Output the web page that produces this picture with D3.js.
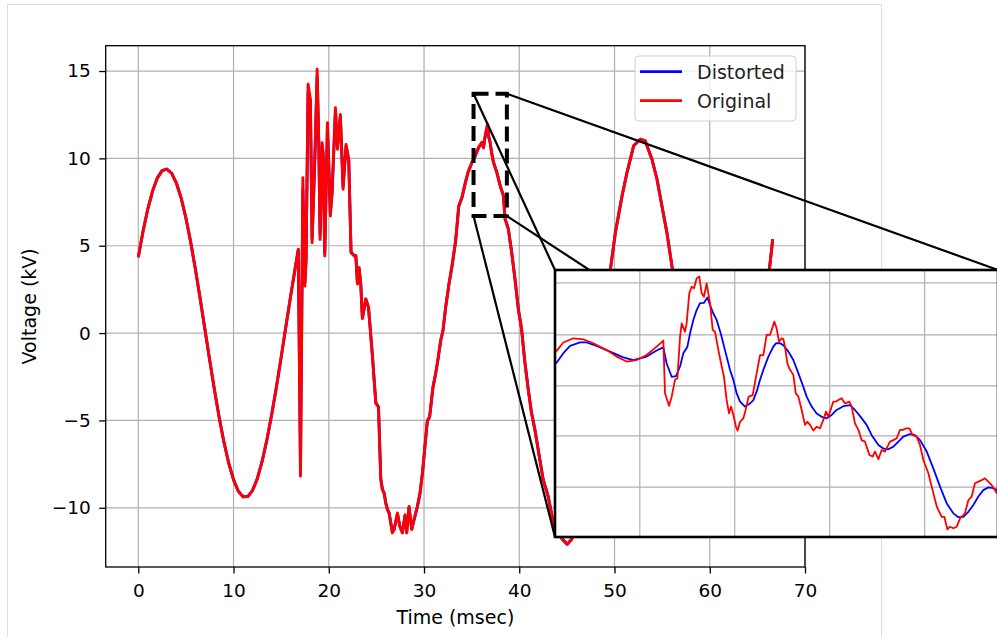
<!DOCTYPE html>
<html>
<head>
<meta charset="utf-8">
<script src="https://cdn.jsdelivr.net/npm/d3@7"></script>
<style>
  body { margin: 0; background: #fff; }
  svg text { font-family: "DejaVu Sans", sans-serif; }
</style>
</head>
<body>
<div id="chart"></div>
<script>
(function() {

// ---- data ----
var xTicks = [0, 10, 20, 30, 40, 50, 60, 70];
var yTicks = [-10, -5, 0, 5, 10, 15];
var seriesNames = ["Distorted", "Original"];
var seriesColors = ["#0000ff", "#ff0000"];

var timeMs = [0,0.5,1,1.5,2,2.5,3,3.5,4,4.5,5,5.5,6,6.5,7,7.5,8,8.5,9,9.5,10,10.5,11,11.5,12,12.5,13,13.5,14,14.5,15,15.5,16,16.5,16.8,
  17.03,17.28,17.49,17.62,17.83,18.07,18.25,18.53,18.78,18.95,19.09,19.30,19.41,19.58,19.86,20.17,20.35,20.70,20.91,21.22,21.50,21.82,22.10,22.34,22.69,
  22.84,23.01,23.18,23.36,23.53,23.89,24.17,24.59,24.94,25.22,25.46,25.63,25.81,25.98,26.16,26.33,26.68,26.86,27.21,27.45,27.73,28.01,28.18,28.43,28.71,28.95,29.30,29.58,29.83,30.35,30.59,30.94,31.22,31.50,31.75,31.99,32.27,32.62,32.97,33.32,
  33.65,33.99,34.34,34.62,35.03,35.38,35.73,36.08,36.25,36.42,36.67,36.80,36.94,37.10,37.29,37.64,37.99,38.33,38.51,38.85,39.20,39.55,39.90,40.24,40.59,40.94,41.28,41.63,41.98,42.50,43.02,43.37,43.72,44.10,44.50,45.03,
  45.5,46,47,48,49,49.57,50.09,50.79,51.31,52.01,52.71,53.23,53.93,54.46,54.98,55.50,56.03,57,58,59,60,61,61.5,62,63,64,65,65.8,66.26,66.61];

var originalKv = [4.34,5.83,7.10,8.13,8.87,9.30,9.39,9.15,8.59,7.73,6.59,5.21,3.65,1.97,0.21,-1.55,-3.26,-4.85,-6.26,-7.45,-8.39,-9.05,-9.37,-9.36,-9.00,-8.33,-7.35,-6.12,-4.69,-3.10,-1.39,0.38,2.13,3.80,4.79,
  -8.19,8.89,2.69,4.22,14.24,13.38,5.17,9.94,15.10,10.90,5.36,10.90,10.32,4.41,12.04,6.70,8.03,12.90,10.52,12.52,8.23,10.80,9.94,4.60,4.41,
  4.43,2.81,3.76,2.81,0.82,1.96,1.48,-1.37,-4.03,-4.22,-8.40,-8.97,-9.16,-9.73,-10.11,-10.30,-11.44,-11.25,-10.30,-11.06,-11.44,-10.40,-11.44,-9.92,-11.25,-10.68,-9.92,-9.16,-8.02,-4.98,-4.79,-3.08,-2.32,-1.37,-0.42,0.15,1.48,2.81,3.95,5.29,
  7.29,7.77,8.62,9.20,9.77,10.15,10.63,10.92,10.60,11.30,11.96,11.20,10.92,10.30,9.77,9.20,8.43,7.86,6.52,5.95,4.61,3.08,1.37,0.22,-1.69,-3.22,-4.56,-5.51,-6.66,-8.38,-9.33,-10.29,-11.24,-11.40,-11.80,-12.10,
  -11.8,-11.2,-9.0,-5.0,0.5,3.64,5.75,7.85,9.19,10.72,11.10,11.00,9.95,8.81,7.28,5.75,3.84,0.2,-3.5,-6.8,-9.3,-10.8,-11.1,-10.9,-9.8,-6.9,-3.0,1.0,3.64,5.37];

var distortedKv = [4.34,5.83,7.10,8.13,8.87,9.30,9.39,9.15,8.59,7.73,6.59,5.21,3.65,1.97,0.21,-1.55,-3.26,-4.85,-6.26,-7.45,-8.39,-9.05,-9.37,-9.36,-9.00,-8.33,-7.35,-6.12,-4.69,-3.10,-1.39,0.38,2.13,3.80,4.79,
  -7.60,8.20,2.90,4.30,13.80,13.30,5.40,9.80,14.70,11.00,5.60,10.70,10.20,4.60,11.80,6.90,8.10,12.70,10.60,12.40,8.40,10.70,9.85,4.65,4.42,
  4.43,2.85,3.72,2.83,0.86,1.94,1.47,-1.33,-3.98,-4.23,-8.30,-8.93,-9.15,-9.70,-10.08,-10.29,-11.38,-11.25,-10.36,-11.02,-11.40,-10.46,-11.40,-9.98,-11.20,-10.70,-9.95,-9.18,-8.06,-5.04,-4.80,-3.11,-2.34,-1.39,-0.44,0.13,1.46,2.79,3.93,5.27,
  7.25,7.77,8.60,9.19,9.76,10.14,10.61,10.90,10.62,11.26,11.90,11.24,10.93,10.32,9.79,9.21,8.45,7.88,6.56,5.97,4.64,3.11,1.40,0.25,-1.66,-3.19,-4.53,-5.49,-6.63,-8.35,-9.31,-10.26,-11.21,-11.39,-11.78,-12.08,
  -11.8,-11.2,-9.0,-5.0,0.5,3.64,5.75,7.85,9.19,10.72,11.10,11.00,9.95,8.81,7.28,5.75,3.84,0.2,-3.5,-6.8,-9.3,-10.8,-11.1,-10.9,-9.8,-6.9,-3.0,1.0,3.64,5.37];

// zoomed window (msec, kV) and the inset's own grid
var zoomTimeRange = [35.2, 38.7];
var zoomKvRange = [6.7, 13.7];
var insetGridTime = [35.87, 36.62, 37.37, 38.12];
var insetGridKv = [8.01, 9.35, 10.66, 12.00, 13.36];

var insetOrigTime = [35.208,35.266,35.345,35.424,35.503,35.608,35.687,35.766,35.845,35.924,
  36.003,36.056,36.069,36.101,36.122,36.148,36.167,36.188,36.201,36.227,
  36.240,36.261,36.280,36.298,36.319,36.340,36.359,36.377,36.398,36.425,
  36.446,36.464,36.491,36.517,36.535,36.556,36.575,36.591,36.609,36.630,
  36.643,36.662,36.688,36.706,36.730,36.762,36.793,36.820,36.846,36.872,
  36.899,36.920,36.933,36.951,36.970,36.991,37.004,37.017,37.036,37.051,
  37.083,37.102,37.123,37.149,37.175,37.194,37.215,37.241,37.267,37.294,
  37.320,37.341,37.360,37.386,37.399,37.420,37.439,37.465,37.491,37.526,
  37.544,37.570,37.597,37.623,37.649,37.684,37.710,37.728,37.755,37.781,
  37.807,37.847,37.873,37.900,37.926,37.952,37.973,38.000,38.026,38.058,
  38.084,38.110,38.150,38.176,38.216,38.255,38.276,38.300,38.321,38.347,
  38.374,38.400,38.439,38.466,38.492,38.518,38.545,38.571,38.597,38.624,
  38.650,38.676,38.692];
var insetOrigKv = [11.56,11.80,11.91,11.88,11.78,11.60,11.43,11.30,11.34,11.47,
  11.69,11.85,10.47,10.14,10.38,10.82,10.86,11.95,12.30,12.08,
  12.30,13.09,13.26,13.22,13.48,13.53,13.09,13.00,13.35,12.83,
  12.13,12.08,11.60,11.17,10.90,10.29,9.94,10.12,9.90,9.59,
  9.49,9.72,9.81,10.03,10.38,10.42,10.99,11.47,11.47,12.00,
  12.00,12.21,12.35,12.17,11.82,11.91,11.89,11.69,11.25,11.12,
  10.95,10.47,10.38,10.03,9.64,9.72,9.64,9.49,9.59,9.55,
  9.77,9.99,9.85,10.12,10.25,10.25,10.29,10.34,10.20,10.25,
  10.12,9.68,9.51,9.24,9.20,8.85,8.81,8.94,8.74,8.98,
  8.94,9.20,9.24,9.29,9.51,9.51,9.55,9.55,9.37,9.33,
  9.11,8.72,8.37,8.02,7.50,7.23,7.23,6.90,6.97,6.93,
  6.97,7.19,7.32,7.67,7.76,8.11,8.15,8.19,8.24,8.15,
  8.06,7.93,7.84];

var insetDistTime = [35.208,35.266,35.319,35.398,35.450,35.529,35.635,35.740,35.819,35.924,
  36.003,36.056,36.082,36.122,36.156,36.188,36.214,36.246,36.267,36.293,
  36.319,36.346,36.377,36.404,36.425,36.451,36.477,36.509,36.543,36.583,
  36.609,36.635,36.662,36.701,36.741,36.767,36.793,36.820,36.846,36.886,
  36.925,36.946,36.978,37.004,37.044,37.083,37.123,37.162,37.188,37.228,
  37.267,37.307,37.346,37.386,37.425,37.478,37.531,37.570,37.610,37.662,
  37.702,37.755,37.794,37.834,37.873,37.913,37.952,38.005,38.044,38.084,
  38.137,38.189,38.242,38.295,38.347,38.387,38.426,38.466,38.505,38.545,
  38.584,38.624,38.663,38.692];
var insetDistKv = [11.25,11.52,11.71,11.80,11.80,11.71,11.56,11.41,11.34,11.43,
  11.59,11.67,11.25,10.90,10.92,11.17,11.52,11.69,12.04,12.39,
  12.65,12.83,12.84,12.98,12.78,12.56,12.39,12.04,11.60,11.08,
  10.82,10.47,10.25,10.12,10.20,10.29,10.51,10.82,11.08,11.43,
  11.69,11.78,11.78,11.73,11.56,11.34,10.99,10.64,10.38,10.12,
  9.94,9.85,9.81,9.90,10.03,10.13,10.16,10.03,9.87,9.64,
  9.37,9.11,9.02,9.00,9.07,9.20,9.33,9.40,9.37,9.24,
  8.94,8.50,8.02,7.58,7.32,7.22,7.23,7.36,7.54,7.76,
  7.93,8.00,7.98,7.93];

// ---- layout ----
var svg = d3.select("#chart").append("svg")
    .attr("width", 997)
    .attr("height", 637),
    margin = {top: 45.7, left: 105.7},
    width = 805 - 105.7,
    height = 567 - 45.7,
    inset = {left: 555, top: 270, width: 443, height: 267},
    g = svg.append("g").attr("transform", "translate(" + margin.left + "," + margin.top + ")");

// light figure frame
svg.insert("rect", ":first-child")
    .attr("x", 7.5).attr("y", 4.5)
    .attr("width", 874).attr("height", 700)
    .attr("fill", "none")
    .attr("stroke", "#dcdcdc");

var x = d3.scaleLinear().domain([-3.42, 70]).range([0, width]);
var y = d3.scaleLinear().domain([-13.39, 16.45]).range([height, 0]);

// grid
g.append("g").selectAll("line").data(xTicks).enter().append("line")
    .attr("x1", function(d) { return x(d); }).attr("x2", function(d) { return x(d); })
    .attr("y1", 0).attr("y2", height)
    .attr("stroke", "#b0b0b0").attr("stroke-width", 1.2);
g.append("g").selectAll("line").data(yTicks).enter().append("line")
    .attr("y1", function(d) { return y(d); }).attr("y2", function(d) { return y(d); })
    .attr("x1", 0).attr("x2", width)
    .attr("stroke", "#b0b0b0").attr("stroke-width", 1.2);

// axes
var xAxis = g.append("g")
    .attr("transform", "translate(0," + height + ")")
    .call(d3.axisBottom(x).tickValues(xTicks).tickSize(6.5).tickPadding(10));
var yAxis = g.append("g")
    .call(d3.axisLeft(y).tickValues(yTicks).tickSize(6.5).tickPadding(8.5));
[xAxis, yAxis].forEach(function(a) {
  a.select(".domain").remove();
  a.attr("font-size", 18.5).attr("font-family", "DejaVu Sans");
  a.selectAll("line").attr("stroke", "#000").attr("stroke-width", 1.3);
  a.selectAll("text").attr("fill", "#000");
});

svg.append("text")
    .attr("x", margin.left + width / 2)
    .attr("y", 624)
    .attr("text-anchor", "middle")
    .attr("font-size", 19)
    .text("Time (msec)");

svg.append("text")
    .attr("transform", "translate(36," + (margin.top + height / 2) + ") rotate(-90)")
    .attr("text-anchor", "middle")
    .attr("font-size", 19)
    .text("Voltage (kV)");

// series
var line = d3.line()
    .x(function(d) { return x(d[0]); })
    .y(function(d) { return y(d[1]); });

[distortedKv, originalKv].forEach(function(vals, i) {
  g.append("path")
      .datum(d3.zip(timeMs, vals))
      .attr("fill", "none")
      .attr("stroke", seriesColors[i])
      .attr("stroke-width", 2.9)
      .attr("stroke-linejoin", "round")
      .attr("d", line);
});

// spines
g.append("rect")
    .attr("width", width).attr("height", height)
    .attr("fill", "none").attr("stroke", "#000").attr("stroke-width", 1.3);

// legend
var legend = svg.append("g");
legend.append("rect")
    .attr("x", 635).attr("y", 56).attr("width", 161).attr("height", 65)
    .attr("rx", 4)
    .attr("fill", "#fff").attr("fill-opacity", 0.8)
    .attr("stroke", "#d0d0d0");
seriesNames.forEach(function(name, i) {
  var cy = 71.7 + i * 29;
  legend.append("line")
      .attr("x1", 640).attr("x2", 682).attr("y1", cy).attr("y2", cy)
      .attr("stroke", seriesColors[i]).attr("stroke-width", 2.8);
  legend.append("text")
      .attr("x", 697).attr("y", cy + 7)
      .attr("font-size", 19)
      .attr("fill", "#222")
      .text(name);
});

// zoom box and connectors
var bx0 = margin.left + x(zoomTimeRange[0]), bx1 = margin.left + x(zoomTimeRange[1]),
    by0 = margin.top + y(zoomKvRange[1]), by1 = margin.top + y(zoomKvRange[0]);

var corners = [
  [bx0, by0, inset.left, inset.top],
  [bx0, by1, inset.left, inset.top + inset.height],
  [bx1, by0, inset.left + inset.width, inset.top],
  [bx1, by1, inset.left + inset.width, inset.top + inset.height]
];
svg.append("g").selectAll("line").data(corners).enter().append("line")
    .attr("x1", function(d) { return d[0]; }).attr("y1", function(d) { return d[1]; })
    .attr("x2", function(d) { return d[2]; }).attr("y2", function(d) { return d[3]; })
    .attr("stroke", "#000").attr("stroke-width", 2.2);

svg.append("rect")
    .attr("x", bx0).attr("y", by0)
    .attr("width", bx1 - bx0).attr("height", by1 - by0)
    .attr("fill", "none")
    .attr("stroke", "#000").attr("stroke-width", 4)
    .attr("stroke-dasharray", "15,7");

// inset
var ig = svg.append("g").attr("transform", "translate(" + inset.left + "," + inset.top + ")");
var ix = d3.scaleLinear().domain(zoomTimeRange).range([0, inset.width]);
var iy = d3.scaleLinear().domain(zoomKvRange).range([inset.height, 0]);

svg.append("clipPath").attr("id", "inset-clip")
  .append("rect").attr("width", inset.width).attr("height", inset.height);

ig.append("rect")
    .attr("width", inset.width).attr("height", inset.height)
    .attr("fill", "#fff");

ig.append("g").selectAll("line").data(insetGridTime).enter().append("line")
    .attr("x1", function(d) { return ix(d); }).attr("x2", function(d) { return ix(d); })
    .attr("y1", 0).attr("y2", inset.height)
    .attr("stroke", "#b0b0b0").attr("stroke-width", 1.2);
ig.append("g").selectAll("line").data(insetGridKv).enter().append("line")
    .attr("y1", function(d) { return iy(d); }).attr("y2", function(d) { return iy(d); })
    .attr("x1", 0).attr("x2", inset.width)
    .attr("stroke", "#b0b0b0").attr("stroke-width", 1.2);

var iline = d3.line()
    .x(function(d) { return ix(d[0]); })
    .y(function(d) { return iy(d[1]); });

var insetSeries = [[insetDistTime, insetDistKv], [insetOrigTime, insetOrigKv]];
insetSeries.forEach(function(s, i) {
  ig.append("path")
      .datum(d3.zip(s[0], s[1]))
      .attr("clip-path", "url(#inset-clip)")
      .attr("fill", "none")
      .attr("stroke", seriesColors[i])
      .attr("stroke-width", 1.8)
      .attr("stroke-linejoin", "round")
      .attr("d", iline);
});

ig.append("rect")
    .attr("width", inset.width).attr("height", inset.height)
    .attr("fill", "none").attr("stroke", "#000").attr("stroke-width", 2.6);

}())
</script>
</body>
</html>
